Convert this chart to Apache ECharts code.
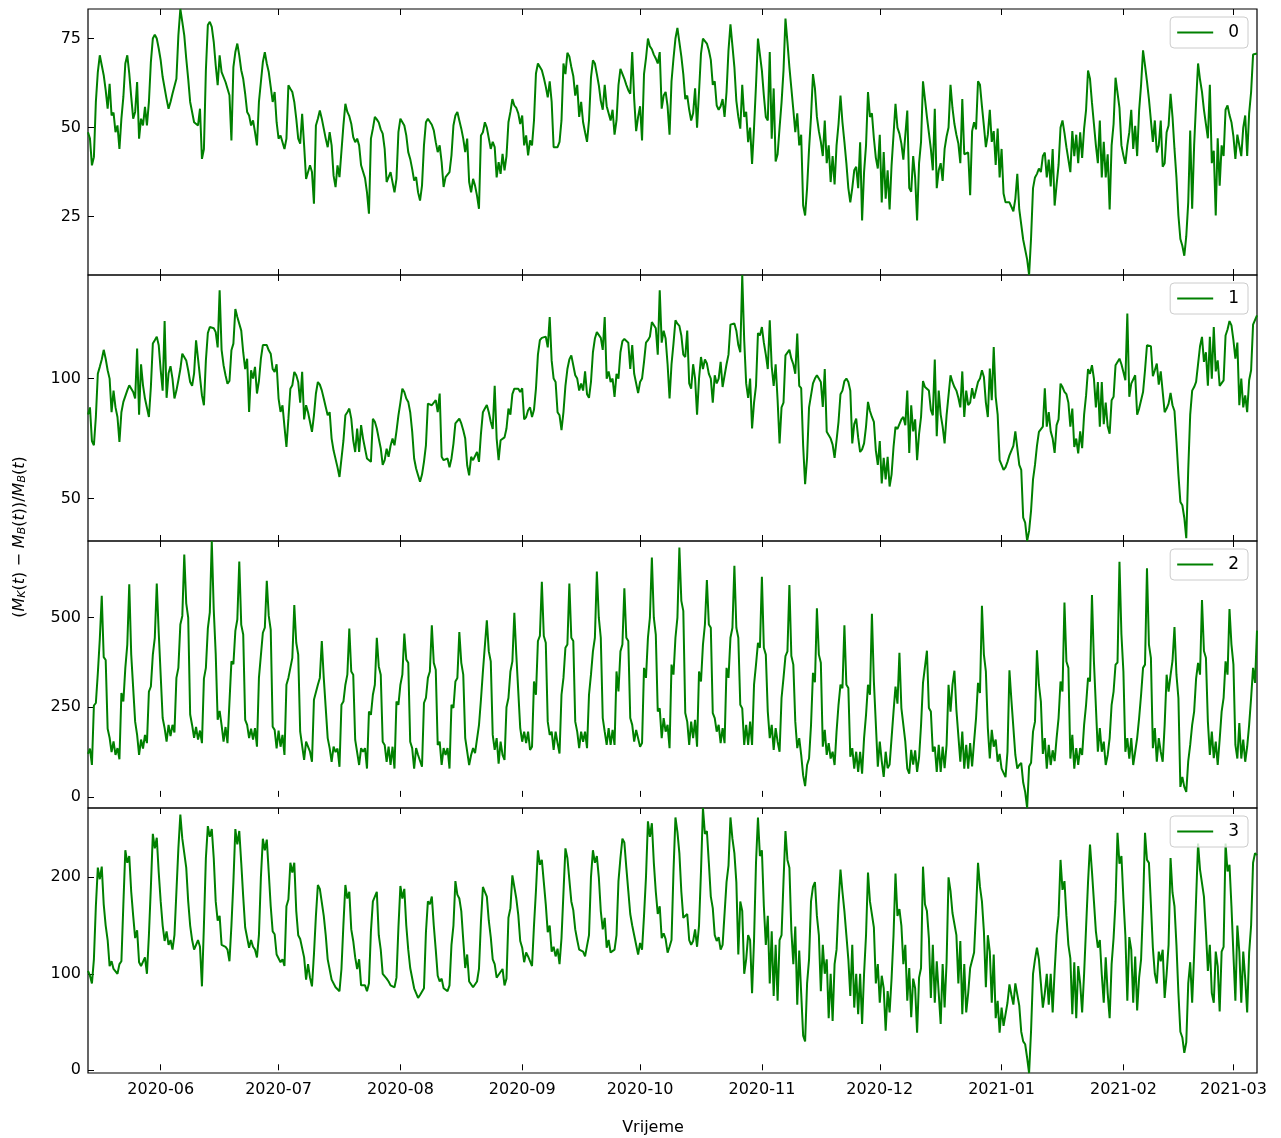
<!DOCTYPE html>
<html>
<head>
<meta charset="utf-8">
<script src="https://cdn.jsdelivr.net/npm/echarts@6/dist/echarts.min.js"></script>
<style>
  html, body { margin: 0; padding: 0; background: #fff; }
  #chart { width: 1281px; height: 1138px; }
</style>
</head>
<body>
<div id="chart"></div>
<script>
// half-day samples, first one at 2020-05-13 12:00
const startTime = Date.UTC(2020, 4, 13, 12)
const stepMs = 12 * 3600 * 1000

const series0 = [
  48.7,46.9,39.4,41.7,57.2,65.6,70.3,67.5,64.7,60.5,55.3,62.3,53.4,54.2,
  48.7,50.6,44,52.5,58.6,68,70.3,65.2,58.6,52.5,54.4,62.8,46.9,52.5,
  50.6,55.8,50.6,57.2,68.4,75,76.1,75,72.2,68.9,64.2,63.7,58,55.3,
  57.2,59.5,59.8,63.7,75.9,83.3,79.7,75.9,69.4,63.7,57.2,57.6,51.5,51.5,
  50.6,55.3,41.2,44,66.1,78.8,79.7,78.3,74.1,67.5,61.9,70.3,65.6,65.6,
  62.8,62.8,59.1,46.4,67,71.2,73.6,70.3,66.1,63.7,59.5,54.4,53.4,50.6,
  52,48.7,45,57.2,62.8,68.4,71.2,68,65.6,61.4,57.2,60,51.5,46.9,
  47.8,48.3,44,46.9,61.9,60.9,60,57.2,52.5,46.9,45.5,53.9,45,35.6,
  37.5,39.4,37.5,28.6,50.6,52.5,54.8,52.5,49.7,46.9,44.5,48.7,45,36.5,
  33.3,39.4,36.1,35.6,50.6,56.7,54.4,53.2,51.1,47.3,45.9,46.9,45,39.4,
  39.4,35.8,31.8,25.8,46.9,49.7,53,52.3,51.4,49.5,48.3,44,34.7,35.1,
  37.5,37.5,31.8,35.6,48.7,52.5,52.5,50.6,47.8,43.1,41.2,38.4,35.1,36.1,
  31.8,29.5,33.7,45,51.5,52.5,52,50.8,49.2,45.9,43.1,45,40.3,33.3,
  36.1,36.4,37.5,42.2,50.6,53.4,54.4,52,49.7,46.9,43.1,46.9,34.7,31.8,
  35.6,33.7,30.9,27.2,47.8,48.7,51.5,50,47,44,46,44.5,36,40.3,
  37,42.6,38,42,51.5,54.4,58,56.2,55.5,54,51,53.4,45,47.8,
  42.2,46.4,45,52,65.2,68,67.5,66.1,64,61.5,58.5,63,57.2,44.5,
  44,44.5,46,52,68,65,71,70,67,64.5,59,62,53,57.2,
  51.5,48.7,46,52,64,68.9,68,65,61.9,57.5,55,62,56,56,
  52,55,48,52,61.9,66.5,66,63.7,62,60.5,59.5,71.2,58,49,
  53,56,46.4,65,69.4,75,72.8,72,70.5,69.4,68,71.2,55.3,59,
  60,56,48,63,69.4,75,78,74,70,65,58,59,55,52,
  54,61,50,60,70.8,75,75.2,73.6,71.7,69,62,63,56.2,55,
  56,58,53,60,71.7,79,73,67,57.5,53,49.7,62,53,54.4,
  45.9,50,39.8,50,61.9,75,70.5,66,59,53,52,71.2,46.9,61,
  40.5,42.5,50,57,66,80.6,74,67,61,55,48.7,54,45,48,
  28.1,25.3,33,44,53,65,61,53,49,46,42,52,40,45,
  34.7,42,34,45,51,59,51.5,46,40,33,29,33,38,39,
  33,45.9,23.9,37.5,45,60,53,54,47,41.5,38.5,48,29,43.1,
  30,38,27,39.4,48,56.7,50,48.3,45.5,41,40.5,54.8,33,32,
  42,36,23.9,40,46,63,58,53,48.5,44,38,55.3,33,38,
  40,35,44,47.5,50,62,55.5,51,48,45.5,40,58,42.5,43,
  43,31,49,51.5,49.5,63,62,56,50.5,44.5,48,55,46,49,
  39.5,49.7,36,44,31.5,29,29.5,29,28.5,26.5,30,37,27,27.5,
  18.5,18,13,8.6,19,33,36,37,38.5,37.5,42,43,36,41,
  33.5,44,28.1,34,39.5,50,52,48.5,44.5,41,37.5,49,42,48,
  40,48.7,41.5,49.7,55,66,63.7,57,51,45,40,52,36,46,
  36,42.5,27,45,51,64,63.7,55.5,45,42.2,39.8,45,48.7,55,
  44,50.5,42,54.8,62,71.7,67.5,63,58,52,46,52,43,45,
  52,39,40,48.7,50.6,59.5,53,44,36,25.3,18.7,16.8,14,19.5,
  29,49.2,27.2,45,57,68,63.5,60,55,51,47,62,40,43.5,
  25.3,47,33.7,45,42,55,56.2,53.5,51.5,47.5,41.2,48,48,42,
  50,53.4,42,54,60,70.5,70,70.8
]

const series1 = [
  85,88,74,72.2,84,102,104.9,108,112,108.3,103.5,100,86,95,
  88,84,73.6,86,90.3,90,95.1,97.2,96.5,94.4,91.7,112.5,85,106,
  97.2,91.7,91.7,84,96.5,114.6,116,117.5,113.9,103.5,95,124,92,102.2,
  105.2,100,91.7,95,99.3,104,110.4,110.4,107.6,103.5,98.6,97,102.2,116,
  108.3,108.3,93,88.9,107.6,119,121.5,122.2,121,119.4,113,136.8,112,105.6,
  101.4,97.9,99,111.8,114.6,129,125.7,126.4,120,111,104,108.3,86.1,103.5,
  100,104.9,93.8,99,108.3,114,113.2,114,111.8,110.4,104,102.8,106,91.7,
  86.1,88.9,80,71.5,83.3,95.8,97.2,102.8,101.4,98.6,90,102.8,83,88.9,
  86,81.9,77.8,84.7,93.8,98.6,97.5,95.1,91.7,88.2,84.7,86,75,70,
  70.8,63,59,59.7,74,84.7,86,87.5,83.3,74.3,69.4,79.2,69.4,80.6,
  75,75,66.7,67.4,65.3,83.3,82,79.2,75,71,64,66,70.8,67.4,
  72,75,72.2,78,84.7,90,95.8,94.4,91.7,90.3,86,78,66.7,62.5,
  59.7,57,60,65.3,72.2,89.6,88.9,88.9,88.2,91,86,93.8,67.4,66,
  65.3,66.7,63,66.7,72.8,81.3,81.3,83.3,81.3,78.5,75,63.9,59.7,67.4,
  66,66,69.4,65.3,77,86,87.5,89,86,82,79,97,75,66,
  74.3,74,75.5,79.2,87.5,85,93.5,95.8,96.5,95.8,94.4,96,83,84,
  86.8,88,84,87,95.8,110,116,117,117.5,117.5,113,125.7,107.5,100,
  98.6,86,84.7,78.5,86,97,104,108,109.7,110.4,101.4,100,95,98,
  95,103,93.5,92,98.6,111,116.7,119.4,119.4,117,112,125.7,100,103,
  98.6,100,92.4,102,100,111,115.6,116.5,117,115,104,114,102,102.8,
  94,98.6,100,107,115,116,117.5,123.6,123,121,110,136.8,115,120,
  116.7,106,91.7,106,114.6,124.3,122.9,122,118,110,109,120,98,95.8,
  106,100,85,100,109,104,108,106.3,102,100,90,101.4,98,100,
  107,96.5,97.2,106,110,122.5,122.5,123,120,114,111,143.2,116,98,
  92,100,79.2,90,97,119,118,121.5,115,110,104,124.3,105,97,
  106,91,73,88,90,109.7,110,112,108.3,106,102,118.8,97,96,
  72,56,67,88,87.5,98,100,101.4,100,98.6,88.2,104,77.8,78.5,
  75,72.5,67,74.3,82,93.5,95,99,100,98.6,95,73,81,83.3,
  75.5,69.4,70.5,73,80,90.3,86.5,84,82,70,64,74,56.3,67,
  58,67.4,55,60,71.5,79.9,79,79,83,84,80.6,95,69,88.9,
  78,83,66,77,84,99,96.5,96,95,87,84.7,108,76,95,
  85,80,73,84.7,84.7,101.4,98.6,96.5,95,92,88,103,84,95,
  89,90,96,91.7,91,98.6,100,103.5,100.7,90,84,104.2,91,113.2,
  92.4,85,66,64,62,63,65.3,68,70,72,78,78,64,62,
  42,40,32.3,36.5,45,58,64,72,77.8,78.5,80,96,80,86,
  78,75,69,80.6,83,97.9,96.5,94.5,93.5,90,80,87.5,71.5,75,
  68.8,78,71,85,93,104,102,105.6,100,88,98.6,80,98.6,81,
  90,80,77,91,92.4,105.6,106.3,108.3,106,102.8,99.3,127.1,92.4,97.9,
  98,101.4,85,87.5,91,94.4,103.5,113.9,113.9,113.5,101,103.5,106.3,97.5,
  103,102.8,86,87.5,89.6,94,88.9,86.5,74,60,48.6,47.2,42,33.5,
  62,85,95,96.5,98.6,106,113.5,117.4,107,111,97,117.4,100,121.5,
  103,107.6,97,96.5,99.3,118,120.5,124,122.2,116,108.3,115,88.9,100,
  88,93,86,99.3,103.5,122.5,123.3,126.4
]

const series2 = [
  120,135,89,255,262,345,440,561,390,382,190,165,125,155,
  117,136,105,290,266,360,425,593,397,392,210,173,117,160,
  135,173,150,294,308,397,444,595,458,453,220,192,154,201,
  170,201,180,332,360,481,505,676,540,500,230,200,165,195,
  160,185,150,330,360,470,515,714,523,400,215,240,200,154,
  195,150,145,378,370,463,495,657,480,453,215,201,164,190,
  160,192,140,332,336,458,472,603,505,467,196,187,135,185,
  140,173,117,313,332,360,388,535,430,397,182,186,103,154,
  158,126,98,271,266,313,332,435,332,328,164,136,98,140,
  125,135,84,257,266,313,341,470,350,341,159,154,89,136,
  126,136,79,238,229,285,313,444,364,341,154,145,98,140,
  89,140,79,266,257,313,341,456,383,374,154,136,79,136,
  117,122,84,262,276,332,350,479,374,355,145,154,89,136,
  117,136,79,257,248,322,332,460,374,341,164,164,89,117,
  136,122,117,200,271,350,355,493,406,378,173,131,164,93,
  154,117,103,250,276,350,378,514,397,392,192,154,182,150,
  182,131,140,322,285,435,449,600,449,430,210,173,182,131,
  182,150,121,285,332,416,425,595,444,435,210,182,136,182,
  154,182,136,285,341,406,444,629,500,444,220,182,145,192,
  145,187,145,350,294,406,425,582,444,435,220,201,154,187,
  182,140,150,360,332,444,500,668,500,453,238,247,164,220,
  182,201,136,369,341,444,500,696,547,519,234,210,145,210,
  164,215,140,350,322,425,481,605,481,472,234,220,182,201,
  150,192,150,360,332,444,472,645,472,444,257,247,145,201,
  145,210,145,313,369,430,416,614,416,397,238,164,201,131,
  192,154,126,276,332,393,406,591,393,369,210,136,164,117,
  60,30,89,107,200,346,320,526,397,374,140,187,117,150,
  107,126,89,182,257,313,303,479,313,304,112,136,79,126,
  70,126,65,164,229,313,285,511,322,318,84,154,100,56,
  126,80,90,164,238,308,260,402,248,243,154,79,65,131,
  90,130,70,110,200,318,322,408,248,238,126,140,70,145,
  70,140,80,145,313,238,313,352,243,238,98,182,79,145,
  79,150,85,154,220,318,290,533,397,350,192,107,187,140,
  160,98,120,79,75,55,126,353,270,266,117,79,89,95,
  40,14,-31,85,95,182,210,409,313,266,120,164,79,145,
  89,130,100,164,220,322,294,542,378,360,107,173,79,136,
  89,136,117,201,257,332,322,563,378,374,126,192,126,154,
  89,117,164,257,294,369,375,656,453,350,126,164,107,164,
  89,126,164,220,285,360,369,638,425,388,136,192,98,164,
  126,98,201,341,294,340,380,474,341,276,28,56,28,14,
  100,145,201,238,330,374,341,549,407,388,210,117,182,108,
  154,89,160,238,276,378,341,524,425,370,145,107,206,107,
  160,98,140,201,276,360,318,464
]

const series3 = [
  103,98,90,115,170,210,198,211,172,150,135,108,113,105,
  105,100,110,113,172,228,215,222,185,160,137,145,112,108,
  110,117,100,140,190,245,230,241,205,175,150,134,144,130,
  135,125,140,185,230,265,240,242,210,175,150,135,125,130,
  135,128,87,150,220,253,242,250,220,175,155,160,130,132,
  128,125,113,150,195,250,234,248,215,180,148,150,127,135,
  128,125,117,140,200,240,228,239,205,170,144,141,120,122,
  112,115,108,170,177,215,205,215,165,140,136,134,117,94,
  110,96,87,120,160,192,188,188,160,140,115,113,94,96,
  86,85,82,105,151,192,178,185,146,134,117,105,115,88,
  86,88,82,90,144,175,180,185,140,125,100,102,95,92,
  88,87,86,96,148,191,178,188,150,125,106,104,85,80,
  75,78,80,85,143,175,172,180,150,125,98,92,95,85,
  84,82,88,130,150,196,182,178,165,135,106,120,92,90,
  86,88,92,105,154,190,185,180,155,138,115,110,96,99,
  100,105,88,95,158,168,202,204,178,161,134,127,112,122,
  118,120,108,150,186,228,213,218,195,172,143,150,123,128,
  118,126,110,137,184,230,220,222,175,166,146,135,125,127,
  123,118,120,140,200,228,215,222,200,165,146,158,127,135,
  122,120,125,140,196,220,240,236,210,186,162,150,140,142,
  120,132,125,160,200,258,242,256,215,185,162,170,137,142,
  136,122,128,135,206,262,247,225,185,158,158,162,135,130,
  134,146,128,150,206,271.8,245,248,215,180,168,140,134,138,
  125,130,132,195,212,262,240,225,195,120,175,165,100,115,
  140,135,80,135,215,262,222,228,170,130,160,90,144,77,
  130,72,135,140,196,248,218,210,145,110,149,68,124,80,
  36,30,90,115,175,190,195,160,140,82,130,100,115,54,
  100,51,110,125,172,208,185,165,140,115,77,130,65,100,
  58,100,48,100,140,205,175,175,148,90,110,70,98,85,
  41,82,60,95,140,204,160,167,150,110,130,72,106,55,
  95,85,39,96,106,211,172,165,137,75,130,70,113,80,
  48,110,65,112,200,186,163,165,140,90,134,58,110,60,
  80,106,105,122,165,215,190,175,144,86,140,123,70,120,
  54,72,39,65,46,44,70,89,78,68,90,89,67,40,
  30,27,13,-2.8,41,100,115,127,115,90,65,80,100,68,
  100,60,103,140,160,218,187,196,160,130,116,58,112,54,
  108,90,60,100,148,195,234,206,175,144,127,135,99,70,
  117,80,54,110,137,175,246,214,222,178,140,72,138,125,
  70,118,62,96,115,170,246,218,215,172,127,100,90,123,
  113,125,75,100,130,220,184,170,130,80,40,34,18,29,
  90,112,70,120,122,235,208,210,180,144,103,130,80,70,
  123,108,61,123,128,235,206,213,170,120,72,150,123,70,
  123,95,60,122,150,215,225,223
]

const seriesNames = ['0', '1', '2', '3']
const seriesData = [series0, series1, series2, series3]

// axis limits (tight to data, as in the original)
const yMin = [8.6, 32.3, -31, -2.8]
const yMax = [83.3, 143.2, 714, 271.8]
const yTicks = [[25, 50, 75], [50, 100], [0, 250, 500], [0, 100, 200]]

const gridTop = [9, 275, 541, 808]
const gridHeight = [266, 266, 267, 265]

const categories = []
for (let i = 0; i < series0.length; i++) {
  const d = new Date(startTime + i * stepMs)
  const mm = String(d.getUTCMonth() + 1).padStart(2, '0')
  const dd = String(d.getUTCDate()).padStart(2, '0')
  const hh = String(d.getUTCHours()).padStart(2, '0')
  categories.push(d.getUTCFullYear() + '-' + mm + '-' + dd + ' ' + hh)
}

const isMonthStart = (index, value) => value.slice(8) === '01 00'
const FONT = 'DejaVu Sans'
const GREEN = '#008000'

let grids = [], xAxes = [], yAxes = [], series = [], legends = []

for (let g = 0; g < 4; g++) {
  grids.push({
    left: 88,
    width: 1169,
    top: gridTop[g],
    height: gridHeight[g],
    show: true,
    borderColor: '#000',
    borderWidth: 1.2,
    backgroundColor: 'transparent'
  })

  const tick = {
    show: true,
    inside: true,
    length: 6,
    interval: isMonthStart,
    lineStyle: { color: '#000', width: 1 }
  }

  xAxes.push({
    type: 'category',
    gridIndex: g,
    position: 'bottom',
    data: categories,
    boundaryGap: false,
    axisLine: { show: false },
    axisTick: tick,
    axisLabel: {
      show: g == 3,
      interval: isMonthStart,
      formatter: (v) => v.slice(0, 7),
      color: '#000',
      fontFamily: FONT,
      fontSize: 16,
      margin: 9
    },
    splitLine: { show: false }
  })
  xAxes.push({
    type: 'category',
    gridIndex: g,
    position: 'top',
    data: categories,
    boundaryGap: false,
    axisLine: { show: false },
    axisTick: tick,
    axisLabel: { show: false },
    splitLine: { show: false }
  })

  yAxes.push({
    type: 'value',
    gridIndex: g,
    min: yMin[g],
    max: yMax[g],
    axisLine: { show: false },
    axisTick: {
      show: true,
      inside: true,
      length: 6,
      customValues: yTicks[g],
      lineStyle: { color: '#000', width: 1 }
    },
    axisLabel: {
      customValues: yTicks[g],
      color: '#000',
      fontFamily: FONT,
      fontSize: 16,
      margin: 7
    },
    splitLine: { show: false }
  })

  series.push({
    name: seriesNames[g],
    type: 'line',
    xAxisIndex: g * 2,
    yAxisIndex: g,
    data: seriesData[g],
    symbol: 'none',
    color: GREEN,
    lineStyle: { color: GREEN, width: 2 },
    animation: false
  })

  legends.push({
    data: [seriesNames[g]],
    right: 33,
    top: gridTop[g] + 8,
    icon: 'rect',
    itemWidth: 36,
    itemHeight: 2,
    padding: [7, 9, 7, 7],
    backgroundColor: 'rgba(255,255,255,0.8)',
    borderColor: '#cccccc',
    borderWidth: 1,
    borderRadius: 4,
    selectedMode: false,
    textStyle: {
      color: '#000',
      fontFamily: FONT,
      fontSize: 17,
      padding: [0, 0, 0, 10]
    }
  })
}

const chart = echarts.init(document.getElementById('chart'), null, { renderer: 'canvas' })

chart.setOption({
  backgroundColor: '#fff',
  animation: false,
  grid: grids,
  xAxis: xAxes,
  yAxis: yAxes,
  legend: legends,
  series: series,
  graphic: [
    {
      type: 'text',
      x: 18,
      y: 537,
      rotation: Math.PI / 2,
      style: {
        text: '{n|(}{i|M}{s|K}{n|(}{i|t}{n|) − }{i|M}{s|B}{n|(}{i|t}{n|))/}{i|M}{s|B}{n|(}{i|t}{n|)}',
        align: 'center',
        verticalAlign: 'middle',
        rich: {
          n: { fontFamily: FONT, fontSize: 16, fill: '#000', lineHeight: 20, verticalAlign: 'bottom' },
          i: { fontFamily: FONT, fontSize: 16, fontStyle: 'italic', fill: '#000', lineHeight: 20, verticalAlign: 'bottom' },
          s: { fontFamily: FONT, fontSize: 11, fontStyle: 'italic', fill: '#000', lineHeight: 8, verticalAlign: 'bottom' }
        }
      }
    },
    {
      type: 'text',
      x: 653,
      y: 1128,
      style: {
        text: 'Vrijeme',
        fontFamily: FONT,
        fontSize: 16,
        fill: '#000',
        align: 'center',
        verticalAlign: 'middle'
      }
    }
  ]
})
</script>
</body>
</html>
